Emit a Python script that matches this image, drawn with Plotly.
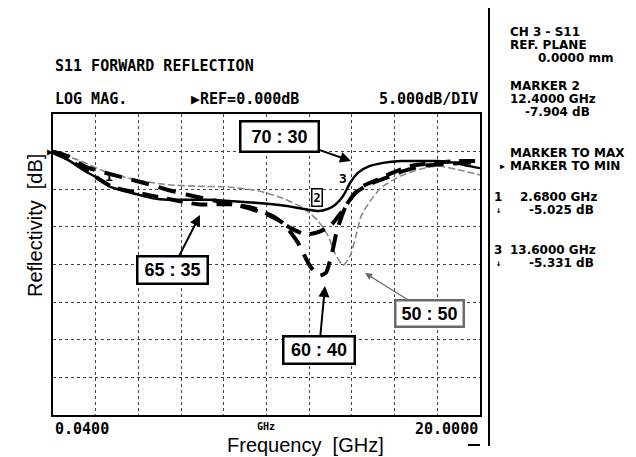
import plotly.graph_objects as go

# ---------------- data ----------------
f_70_30 = [0.04, 0.74, 1.44, 2.28, 2.66, 3.08, 3.87, 4.71, 5.42, 6.35, 7.29, 8.45, 9.48, 10.88,
           11.96, 12.43, 12.9, 13.22, 13.6, 13.92, 14.3, 14.77, 15.47, 16.31, 17.1, 18.04, 18.83, 19.44, 20.0]
db_70_30 = [-0.2, -1.1, -2.4, -3.8, -4.6, -5.0, -5.6, -6.2, -6.4, -6.4, -6.4, -6.6, -6.8, -7.2,
            -7.7, -7.9, -7.6, -7.1, -5.9, -4.2, -2.8, -2.0, -1.5, -1.25, -1.25, -1.25, -1.5, -1.9, -2.2]

f_65_35 = [0.04, 0.74, 1.68, 2.75, 3.87, 5.28, 6.82, 8.36, 9.39, 10.32, 11.17, 11.87, 12.43, 12.99,
           13.46, 13.92, 14.39, 15.14, 15.93, 16.77, 17.8, 18.97, 20.0]
db_65_35 = [0.0, -1.0, -2.7, -4.6, -5.4, -6.2, -7.0, -7.0, -7.5, -8.6, -10.2, -11.0, -10.7, -9.9,
            -8.3, -6.4, -4.8, -3.8, -2.8, -1.9, -1.5, -1.25, -1.25]

f_60_40 = [0.04, 0.74, 1.54, 2.47, 3.41, 4.48, 5.42, 6.58, 7.75, 8.92, 10.0, 10.79, 11.49, 12.05,
           12.47, 12.8, 13.08, 13.32, 13.69, 14.16, 14.86, 15.61, 16.4, 17.34, 18.5, 20.0]
db_60_40 = [0.0, -0.6, -2.0, -2.8, -3.5, -4.3, -5.1, -5.9, -6.6, -7.3, -8.3, -9.5, -12.1, -15.2,
            -16.5, -16.1, -13.5, -10.4, -7.5, -5.5, -4.3, -3.5, -2.6, -1.9, -1.6, -1.4]

f_50_50 = [0.04, 1.21, 2.61, 4.01, 5.42, 6.82, 8.22, 9.62, 10.79, 11.73, 12.43, 12.9, 13.22, 13.6,
           13.92, 14.2, 14.44, 14.86, 15.37, 16.31, 17.24, 18.04, 18.97, 20.0]
db_50_50 = [0.0, -1.1, -2.8, -3.8, -4.4, -4.6, -4.7, -5.2, -6.2, -7.5, -9.2, -11.2, -13.5, -15.1,
            -13.9, -11.2, -8.6, -6.6, -4.8, -3.2, -2.3, -1.9, -2.4, -3.1]

marker_f = [2.68, 12.4, 13.6]
marker_db = [-5.025, -7.904, -5.331]
marker_ids = ["1", "2", "3"]

f_start, f_stop = 0.04, 20.0
ref_db, db_per_div = 0.0, 5.0
x_tick_labels = ["0.0400", "GHz", "20.0000"]

header_title = "S11 FORWARD REFLECTION"
header_fmt = "LOG MAG."
header_ref = "\u25B6REF=0.000dB"
header_scale = "5.000dB/DIV"

# ---------------- geometry helpers (pixels -> paper) ----------------
W, H = 636, 457
L, R, T, B = 45, 472, 106, 407


def px(x):
    return (x - L) / (R - L)


def py(y):
    return (B - y) / (B - T)


fig = go.Figure()

fig.add_trace(go.Scatter(x=f_50_50, y=db_50_50, mode="lines", name="50 : 50",
                         line=dict(color="#8a8a8a", width=1.6, dash="7px,3px", shape="spline", smoothing=0.6)))
fig.add_trace(go.Scatter(x=f_65_35, y=db_65_35, mode="lines", name="65 : 35",
                         line=dict(color="black", width=4, dash="16px,9px", shape="spline", smoothing=0.6)))
fig.add_trace(go.Scatter(x=f_60_40, y=db_60_40, mode="lines", name="60 : 40",
                         line=dict(color="black", width=4, dash="18px,10px", shape="spline", smoothing=0.5)))
fig.add_trace(go.Scatter(x=f_70_30, y=db_70_30, mode="lines", name="70 : 30",
                         line=dict(color="black", width=2.4, shape="spline", smoothing=0.6)))

mono = "DejaVu Sans Mono"
wide = "DejaVu Sans"
sans = "Liberation Sans, Arial"
ann = []


def text(x, y, s, size=15, xanchor="left", family=mono, bold=True, color="black", **kw):
    ann.append(dict(xref="paper", yref="paper", x=px(x), y=py(y), text=s, showarrow=False,
                    xanchor=xanchor, yanchor="middle",
                    font=dict(family=family, size=size, color=color, weight="bold" if bold else "normal"), **kw))


# header
text(45, 58, header_title)
text(45, 91, header_fmt)
text(293, 91, header_ref, xanchor="right")
text(472, 91, header_scale, xanchor="right")

# bottom tick labels
text(45, 421, x_tick_labels[0])
text(258, 418, x_tick_labels[1], size=10, xanchor="center")
text(472, 421, x_tick_labels[2], xanchor="right")

# right panel
rp = dict(size=12, family=wide)
text(500, 24, "CH 3 - S11", **rp)
text(500, 37, "REF. PLANE", **rp)
text(528, 50, "0.0000 mm", **rp)
text(500, 78, "MARKER 2", **rp)
text(500, 91, "%.4f GHz" % marker_f[1], **rp)
text(515, 104, "%.3f dB" % marker_db[1], **rp)
text(500, 145, "MARKER TO MAX", **rp)
text(494, 158, "\u25B6", size=8, xanchor="center")
text(500, 158, "MARKER TO MIN", **rp)
text(490, 189, marker_ids[0], xanchor="center", **rp)
text(510, 189, "%.4f GHz" % marker_f[0], **rp)
text(490, 202, "\u2193", size=9, xanchor="center")
text(519, 202, "%.3f dB" % marker_db[0], **rp)
text(490, 242, marker_ids[2], xanchor="center", **rp)
text(500, 242, "%.4f GHz" % marker_f[2], **rp)
text(490, 255, "\u2193", size=9, xanchor="center")
text(519, 255, "%.3f dB" % marker_db[2], **rp)

# reference-level pointer on the left edge
text(42, B - (B - T) * (ref_db - (-35)) / 40.0, "\u25B6", size=10, xanchor="center", bold=False)

# axis titles
text(297, 437, "Frequency\u00a0\u00a0[GHz]", size=20, xanchor="center", family=sans, bold=False)
text(27, 218, "Reflectivity\u00a0\u00a0[dB]", size=20, xanchor="center", family=sans, bold=False, textangle=-90)

# marker labels on the trace
ann.append(dict(x=marker_f[0], y=marker_db[0], text=marker_ids[0], showarrow=False, yshift=13,
                font=dict(family=mono, size=13, color="black", weight="bold")))
ann.append(dict(x=marker_f[1], y=marker_db[1], text=marker_ids[1], showarrow=False, yshift=14,
                bgcolor="white", bordercolor="black", borderwidth=1.5, borderpad=1,
                font=dict(family=mono, size=12, color="black", weight="bold")))
ann.append(dict(x=marker_f[2], y=marker_db[2], text=marker_ids[2], showarrow=False, yshift=13,
                font=dict(family=mono, size=13, color="black", weight="bold")))


def label(xh, yh, ax, ay, s, w, h, color="black", awidth=2):
    ann.append(dict(x=xh, y=yh, ax=ax, ay=ay, text="<b>%s</b>" % s, showarrow=True,
                    arrowhead=2, arrowsize=1.1, arrowwidth=awidth, arrowcolor=color,
                    bgcolor="white", bordercolor=color, borderwidth=2.5, borderpad=3,
                    width=w, height=h,
                    font=dict(family=sans, size=18, color="black")))


def pf(x):
    return f_start + (x - L) * (f_stop - f_start) / (R - L)


def pdb(y):
    return 5 - (y - T) * 40.0 / (B - T)


label(pf(343), pdb(153), -72, -25, "70 : 30", 70, 22)
label(pf(192), pdb(207), -28, 55, "65 : 35", 62, 19)
label(pf(317), pdb(278), -6, 64, "60 : 40", 63, 19)
label(pf(357), pdb(265), 64, 40, "50 : 50", 60, 18, color="#6a6a6a", awidth=1.3)

shapes = [
    dict(type="line", xref="paper", yref="paper", x0=px(481), x1=px(481), y0=py(0), y1=py(438),
         line=dict(color="black", width=2)),
    dict(type="line", xref="paper", yref="paper", x0=px(460), x1=px(472), y0=py(437), y1=py(437),
         line=dict(color="black", width=2)),
]

fig.update_layout(
    width=W, height=H,
    margin=dict(l=L, r=W - R, t=T, b=H - B),
    paper_bgcolor="white", plot_bgcolor="white",
    showlegend=False,
    annotations=ann, shapes=shapes,
    xaxis=dict(range=[f_start, f_stop], tick0=f_start, dtick=(f_stop - f_start) / 10,
               showgrid=True, gridcolor="#444", gridwidth=1, griddash="dot",
               showline=True, mirror=True, linecolor="black", linewidth=2,
               showticklabels=False, ticks="", zeroline=False, fixedrange=True),
    yaxis=dict(range=[-35, 5], tick0=-35, dtick=db_per_div,
               showgrid=True, gridcolor="#444", gridwidth=1, griddash="dot",
               showline=True, mirror=True, linecolor="black", linewidth=2,
               showticklabels=False, ticks="", zeroline=False, fixedrange=True),
)

fig.write_html("out.html")
